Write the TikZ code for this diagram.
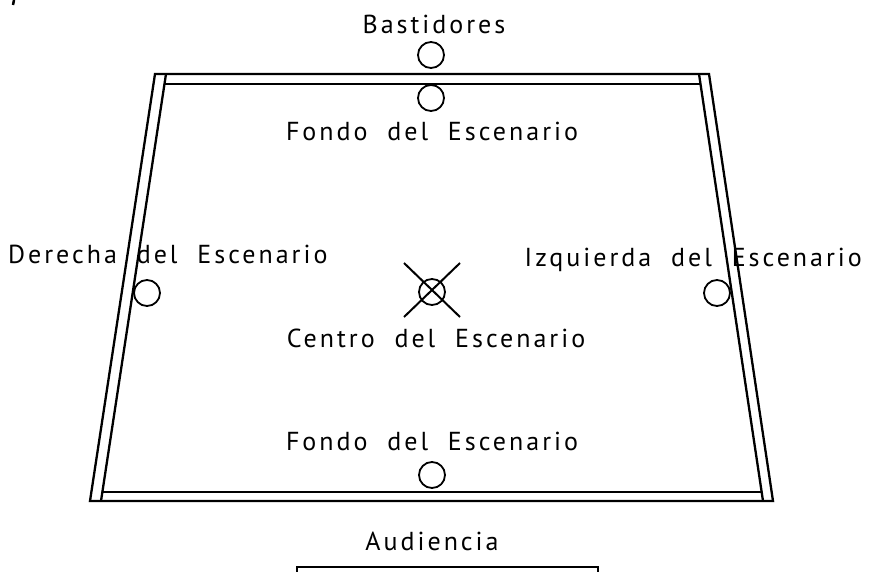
\documentclass[tikz,border=0pt]{standalone}
\usepackage{fontspec}
\setmainfont{PT Sans}
\newfontfamily\lblfont{PT Sans}[LetterSpace=11.5,WordSpace=2.0]
\begin{document}
\begin{tikzpicture}[x=1pt,y=-1pt,
  wall/.style={line width=2.3pt, line join=miter},
  spot/.style={circle, draw, line width=1.8pt, minimum size=26pt, inner sep=0pt},
  lbl/.style={anchor=base, inner sep=0pt, font=\lblfont\fontsize{26}{30}\selectfont}]
\useasboundingbox (0,0) rectangle (872,572);
% stage outline
\coordinate (otl) at (155,74);
\coordinate (otr) at (709,74);
\coordinate (obr) at (773,501);
\coordinate (obl) at (90,501);
\coordinate (itl) at (166,74);
\coordinate (itr) at (699,74);
\coordinate (ibr) at (763,501);
\coordinate (ibl) at (101,501);
\draw[wall] (otl) -- (otr) -- (obr) -- (obl) -- cycle;
\draw[wall] (itl) -- (ibl);
\draw[wall] (itr) -- (ibr);
\draw[wall] (164.4,84) -- (700.5,84);
\draw[wall] (102.2,492) -- (761.7,492);
% spots
\node[spot] (bast) at (431,55) {};
\node[spot] (fondoT) at (431,98) {};
\node[spot] (der) at (147,293) {};
\node[spot] (izq) at (717,293) {};
\node[spot] (centro) at (432,292) {};
\node[spot] (fondoB) at (432,475) {};
\coordinate (x1) at (404,263); \coordinate (x2) at (460,317);
\coordinate (x3) at (460,263); \coordinate (x4) at (404,317);
\draw[line width=2pt] (x1) -- (x2);
\draw[line width=2pt] (x3) -- (x4);
% labels
\node[lbl] (tBast) at (434,34) {Bastidores};
\node[lbl] (tFondoT) at (432,141) {Fondo del Escenario};
\node[lbl, anchor=base west] (tDer) at (8,263) {Derecha del Escenario};
\node[lbl, anchor=base east] (tIzq) at (862,266) {Izquierda del Escenario};
\node[lbl] (tCentro) at (436,347) {Centro del Escenario};
\node[lbl] (tFondoB) at (432,450) {Fondo del Escenario};
\node[lbl] (tAud) at (432,550) {Audiencia};
% audience box
\coordinate (a1) at (297,572); \coordinate (a2) at (297,567);
\coordinate (a3) at (598,567); \coordinate (a4) at (598,572);
\draw[line width=1.8pt] (a1) -- (a2) -- (a3) -- (a4);
% corner mark
\draw[line width=2.5pt] (14,0) -- (13,5);
\end{tikzpicture}
\end{document}
